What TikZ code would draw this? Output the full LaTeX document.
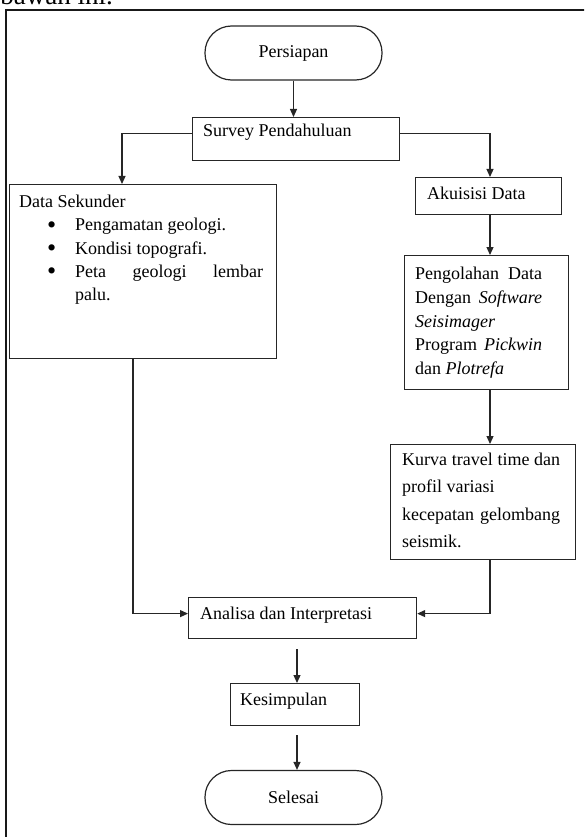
\documentclass[tikz,border=0pt]{standalone}
\usepackage{fontspec}
\setmainfont{Liberation Serif}
\usetikzlibrary{arrows.meta}
\newcommand{\mybul}{\smash{\raisebox{-2.2pt}{\scalebox{1.45}{\textbullet}}}}
\begin{document}
\begin{tikzpicture}[x=1pt,y=-1pt,
  box/.style={draw=black!85, line width=1.2pt, rectangle, inner sep=0pt, anchor=north west},
  term/.style={draw=black!85, line width=1.2pt, rectangle, rounded corners=26.5pt, inner sep=0pt,
    minimum width=177pt, minimum height=54pt, font=\fontsize{18}{22}\selectfont},
  txt/.style={inner sep=0pt, font=\fontsize{18}{22}\selectfont},
  arr/.style={line width=1.2pt, draw=black!85, -{Triangle[width=7pt,length=8pt]}},
  frame/.style={line width=2pt, draw=black!90},
]
\useasboundingbox (0,0) rectangle (584,837);
\clip (0,0) rectangle (584,837);

% frame and cut-off text above it
\coordinate (fbl) at (6,845);
\coordinate (ftl) at (6,10);
\coordinate (ftr) at (592,10);
\draw[frame] (fbl) -- (ftl) -- (ftr);
\node[inner sep=0pt, anchor=base east, font=\fontsize{27}{30}\selectfont] (toptext) at (113,5) {bawah ini.};

% nodes
\node[term] (per) at (293.5,53) {Persiapan\hspace{8pt}};

\node[box, minimum width=207pt, minimum height=43pt] (sur) at (192,117) {};
\node[txt, anchor=base west] (surt) at (203,137) {Survey Pendahuluan};

\node[box, minimum width=267pt, minimum height=174pt] (sek) at (9,184) {};
\node[txt, anchor=north west, align=left, font=\fontsize{18}{23.3}\selectfont] (sekt) at (19,195)
  {Data Sekunder\\
   \hspace*{28pt}\makebox[28pt][l]{\mybul}Pengamatan geologi.\\
   \hspace*{28pt}\makebox[28pt][l]{\mybul}Kondisi topografi.\\
   \hspace*{28pt}\makebox[28pt][l]{\mybul}\makebox[188pt][s]{Peta geologi lembar}\\
   \hspace*{56pt}palu.};

\node[box, minimum width=146pt, minimum height=37pt] (aku) at (415,177) {};
\node[txt, anchor=base west] (akut) at (427,200) {Akuisisi Data};

\node[box, minimum width=164pt, minimum height=134pt] (pen) at (404,255) {};
\node[txt, anchor=north west, align=left, font=\fontsize{18}{23.7}\selectfont] (pent) at (415,267)
  {\makebox[127pt][s]{Pengolahan Data}\\
   \makebox[127pt][s]{Dengan \textit{Software}}\\
   \textit{Seisimager}\\
   \makebox[127pt][s]{Program \textit{Pickwin}}\\
   dan \textit{Plotrefa}};

\node[box, minimum width=185pt, minimum height=115pt] (kur) at (390,444) {};
\node[txt, anchor=north west, align=left, font=\fontsize{18}{27.3}\selectfont] (kurt) at (402,453)
  {\makebox[158pt][s]{Kurva travel time dan}\\
   profil variasi\\
   \makebox[158pt][s]{kecepatan gelombang}\\
   seismik.};

\node[box, minimum width=228pt, minimum height=41pt] (ana) at (188,597) {};
\node[txt, anchor=base west] (anat) at (200,619) {Analisa dan Interpretasi};

\node[box, minimum width=129pt, minimum height=42pt] (kes) at (230,683) {};
\node[txt, anchor=base west] (kest) at (240,705) {Kesimpulan};

\node[term] (sel) at (293.5,797.5) {Selesai\hspace{7pt}};

% connector columns
\coordinate (xl) at (122,0);
\coordinate (xr) at (490,0);
\coordinate (xd) at (133,0);
\coordinate (xm) at (297,0);
\coordinate (surL) at ([yshift=5.5pt]sur.west);
\coordinate (surR) at ([yshift=5.5pt]sur.east);
\coordinate (anaL) at ([yshift=4.5pt]ana.west);
\coordinate (anaR) at ([yshift=4.5pt]ana.east);
\coordinate (anaB) at ([yshift=-10pt]ana.south);
\coordinate (kesB) at ([yshift=-9pt]kes.south);

% connectors
\draw[arr] (per.south) -- (per.south |- sur.north);
\draw[arr] (surL) -| (sek.north -| xl);
\draw[arr] (surR) -| (aku.north -| xr);
\draw[arr] (aku.south -| xr) -- (pen.north -| xr);
\draw[arr] (pen.south -| xr) -- (kur.north -| xr);
\draw[arr] (kur.south -| xr) |- (anaR);
\draw[arr] (sek.south -| xd) |- (anaL);
\draw[arr] (anaB -| xm) -- (kes.north -| xm);
\draw[arr] (kesB -| xm) -- (sel.north -| xm);
\end{tikzpicture}
\end{document}
